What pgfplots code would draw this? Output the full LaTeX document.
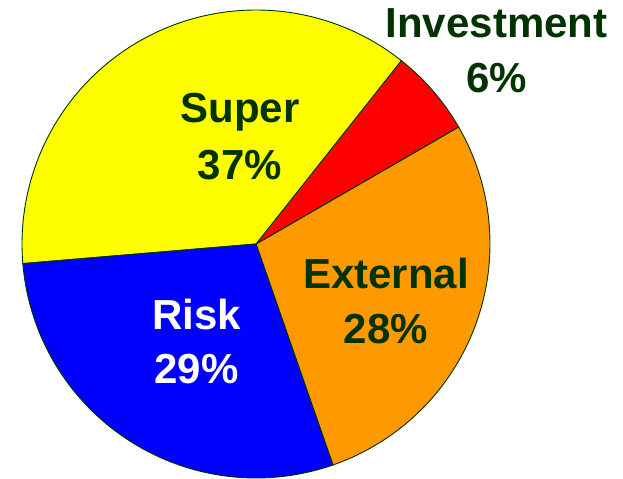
\documentclass[border=0pt]{standalone}
\usepackage{pgfplots}
\pgfplotsset{compat=1.18}
\usepackage{fontspec}
\setmainfont{Liberation Sans}
\definecolor{txtgreen}{HTML}{003300}
\definecolor{pieyellow}{HTML}{FFFF00}
\definecolor{piered}{HTML}{FF0000}
\definecolor{pieorange}{HTML}{FF9900}
\definecolor{pieblue}{HTML}{0000FF}
\begin{document}
\begin{tikzpicture}
\begin{axis}[
  scale only axis, width=623pt, height=478pt,
  xmin=-256, xmax=367, ymin=-234, ymax=244,
  hide axis, clip=false,
]
% shares: External 28%, Investment 6%, Super 37%, Risk 29%  (1% = 3.6 degrees)
\addplot[draw=none] coordinates {(-256,-234) (367,244)};
\addplot[fill=pieorange, draw=txtgreen, line width=0.9pt, domain=-70.8:30, samples=80, variable=\t]
  ({234*cos(t)},{234*sin(t)}) -- (0,0) -- cycle;
\addplot[fill=piered, draw=txtgreen, line width=0.9pt, domain=30:51.6, samples=30, variable=\t]
  ({234*cos(t)},{234*sin(t)}) -- (0,0) -- cycle;
\addplot[fill=pieyellow, draw=txtgreen, line width=0.9pt, domain=51.6:184.8, samples=100, variable=\t]
  ({234*cos(t)},{234*sin(t)}) -- (0,0) -- cycle;
\addplot[fill=pieblue, draw=txtgreen, line width=0.9pt, domain=184.8:289.2, samples=80, variable=\t]
  ({234*cos(t)},{234*sin(t)}) -- (0,0) -- cycle;
\tikzset{lbl/.style={anchor=base, inner sep=0pt, font=\fontsize{42}{50}\selectfont\bfseries}}
\node[lbl, text=txtgreen] at (240.5,206) {Investment};
\node[lbl, text=txtgreen] at (240.5,151) {6\%};
\node[lbl, text=txtgreen] at (-16,121) {Super};
\node[lbl, text=txtgreen] at (-16,64) {37\%};
\node[lbl, text=white] at (-59.5,-85) {Risk};
\node[lbl, text=white] at (-59.5,-139) {29\%};
\node[lbl, text=txtgreen] at (130,-45) {External};
\node[lbl, text=txtgreen] at (130,-99) {28\%};
\end{axis}
\end{tikzpicture}
\end{document}
